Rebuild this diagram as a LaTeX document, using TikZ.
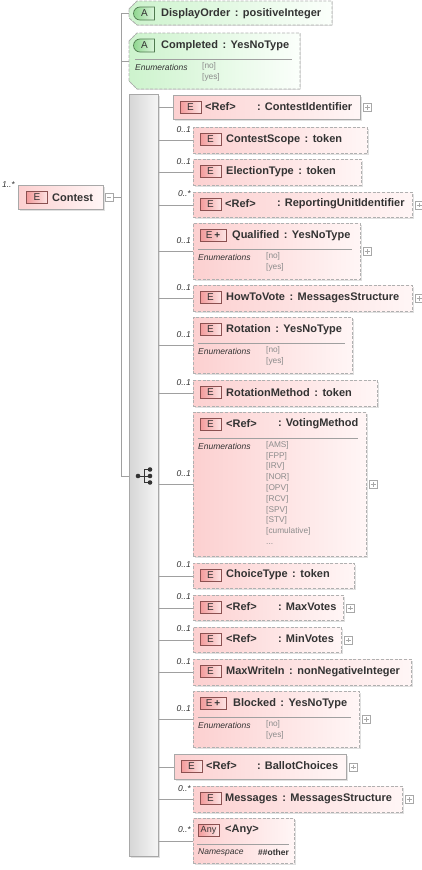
\documentclass[tikz,border=0pt]{standalone}
\usepackage{fontspec}
\setmainfont{Liberation Sans}
\usetikzlibrary{shapes.misc,shadows}
\definecolor{txt}{HTML}{333333}
\definecolor{enumC}{HTML}{8C8C8C}
\definecolor{lineC}{HTML}{A0A0A0}
\definecolor{dashC}{HTML}{B0B0B0}
\definecolor{solidC}{HTML}{A8A8A8}
\definecolor{pinkL}{HTML}{FCD0D0}
\definecolor{pinkR}{HTML}{FFF6F6}
\definecolor{greenL}{HTML}{CDF3CD}
\definecolor{greenR}{HTML}{FBFFFB}
\definecolor{badgeL}{HTML}{F29A9A}
\definecolor{badgeR}{HTML}{FDE3E3}
\definecolor{badgeB}{HTML}{8A5050}
\definecolor{abadgeL}{HTML}{8FD68F}
\definecolor{abadgeR}{HTML}{DDF6DD}
\definecolor{abadgeB}{HTML}{4F7A4F}
\definecolor{barL}{HTML}{D6D6D6}
\definecolor{barR}{HTML}{F6F6F6}
\definecolor{plusC}{HTML}{A8A8A8}
\newcommand\Ebox[6]{%
  \node[ebox,#6,minimum width=#4pt,minimum height=#5pt,anchor=north west] (#1) at (#2,#3) {};
  \node[ebadge] (#1-b) at (#2+17.5,#3+12) {E};}
\newcommand\Pbox[1]{\node[plusbox,anchor=west] (#1-p) at ([xshift=2pt]#1.east) {};}
\newcommand\Conn[2]{\draw[conn] (seq.east |- #1.west) -- (#1.west);
  \node[mult,xshift=-2pt,yshift=11pt] (#1-m) at (#1.west) {#2};}
\newcommand\Cl{\hspace{4.5pt}:\hspace{4.5pt}}
\begin{document}
\begin{tikzpicture}[x=1pt,y=-1pt,
  conn/.style={draw=lineC,line width=0.8pt},
  ebox/.style={rectangle,inner sep=0pt,left color=pinkL,right color=pinkR,
    drop shadow={shadow xshift=1.5pt,shadow yshift=-1.5pt,fill=black,opacity=0.12}},
  opt/.style={draw=dashC,dash pattern=on 3pt off 1.6pt,line width=0.8pt},
  req/.style={draw=solidC,line width=1pt},
  ebadge/.style={rectangle,inner sep=0pt,minimum width=21pt,minimum height=12pt,
    left color=badgeL,right color=badgeR,draw=badgeB,line width=0.7pt,
    font=\fontsize{10}{10}\selectfont,text=txt},
  abadge/.style={rounded rectangle,rounded rectangle right arc=none,inner sep=0pt,
    minimum width=21pt,minimum height=13pt,left color=abadgeL,right color=abadgeR,
    draw=abadgeB,line width=0.7pt,font=\fontsize{10}{10}\selectfont,text=txt},
  htext/.style={inner sep=0pt,anchor=west,font=\bfseries\fontsize{11}{11}\selectfont,text=txt},
  mult/.style={inner sep=0pt,anchor=east,font=\itshape\fontsize{8.5}{8.5}\selectfont,text=txt},
  enl/.style={inner sep=0pt,anchor=west,font=\itshape\fontsize{8.5}{8.5}\selectfont,text=txt},
  env/.style={inner sep=0pt,anchor=north west,align=left,font=\fontsize{8.3}{10.8}\selectfont,text=enumC},
  sep/.style={draw=lineC,line width=0.8pt},
  plusbox/.style={rectangle,draw=plusC,fill=white,minimum size=8pt,inner sep=0pt,line width=0.6pt,
    path picture={\draw[plusC,line width=0.6pt]
      ([xshift=1.6pt]path picture bounding box.west) -- ([xshift=-1.6pt]path picture bounding box.east)
      ([yshift=-1.6pt]path picture bounding box.north) -- ([yshift=1.6pt]path picture bounding box.south);}},
  minusbox/.style={rectangle,draw=plusC,fill=white,minimum size=8pt,inner sep=0pt,line width=0.6pt,
    path picture={\draw[plusC,line width=0.6pt]
      ([xshift=1.6pt]path picture bounding box.west) -- ([xshift=-1.6pt]path picture bounding box.east);}}
]
\useasboundingbox[fill=white] (0,0) rectangle (422,870);

% ---------- Contest ----------
\node[ebox,req,minimum width=85pt,minimum height=24pt,anchor=north west] (contest) at (18,185) {};
\node[ebadge] (contest-b) at (37,197.5) {E};
\node[htext] (contest-t) at (52,197.5) {Contest};
\node[mult,anchor=east] (contest-m) at (15,185) {1..*};
\node[minusbox] (contest-x) at (109,197.5) {};
\coordinate (jn) at (121,197.5);
\coordinate (jtop) at (121,13.5);
\coordinate (jbot) at (121,476);
\draw[conn] (contest-x.east) -- (jn);
\draw[conn] (jtop) -- (jbot);

% ---------- attributes ----------
\coordinate (do-w) at (129,13.5);
\filldraw[left color=greenL,right color=greenR,draw=dashC,dash pattern=on 3pt off 1.6pt,line width=0.8pt]
  (129,9) -- (137,1) -- (332,1) -- (332,25) -- (137,25) -- (129,18) -- cycle;
\node[abadge] (do-b) at (144.5,13.5) {A};
\node[htext] (do-t) at (161,13.5) {DisplayOrder\Cl positiveInteger};
\draw[conn] (jtop) -- (do-w);

\coordinate (co-w) at (129,61);
\filldraw[left color=greenL,right color=greenR,draw=dashC,dash pattern=on 3pt off 1.6pt,line width=0.8pt]
  (129,41) -- (137,33) -- (300,33) -- (300,89) -- (137,89) -- (129,81) -- cycle;
\node[abadge] (co-b) at (144.5,45.5) {A};
\node[htext] (co-t) at (161,45.5) {Completed\Cl YesNoType};
\draw[sep] (135,59.5) -- (292,59.5);
\node[enl] (co-e) at (135,67) {Enumerations};
\node[env] (co-v) at (202,62) {[no]\\{}[yes]};
\draw[conn] (jtop |- co-w) -- (co-w);

% ---------- sequence ----------
\node[rectangle,draw=solidC,line width=0.8pt,left color=barL,right color=barR,inner sep=0pt,
  minimum width=29pt,minimum height=762pt,anchor=north west,
  drop shadow={shadow xshift=1.5pt,shadow yshift=-1.5pt,fill=black,opacity=0.12}] (seq) at (129,94) {};
\draw[conn] (jbot) -- (jbot -| seq.west);
\begin{scope}[txt,line width=1pt]
  \draw (138,476) -- (144,476) (144,469.5) -- (144,482.5)
        (144,469.5) -- (150,469.5) (144,476) -- (150,476) (144,482.5) -- (150,482.5);
  \fill (138,476) circle (2.3);
  \fill (150,469.5) circle (2.3) (150,476) circle (2.3) (150,482.5) circle (2.3);
\end{scope}

% ---------- children ----------
% ContestIdentifier
\Ebox{ci}{173}{95}{187}{24}{req}
\node[htext] (ci-t) at (205,107) {<Ref>};
\node[htext] (ci-y) at (257,107) {:\hspace{4pt}ContestIdentifier};
\Pbox{ci}
\draw[conn] (seq.east |- ci.west) -- (ci.west);

% ContestScope
\Ebox{cs}{193}{127}{174}{26}{opt}
\node[htext] (cs-t) at (226,139.5) {ContestScope\Cl token};
\Conn{cs}{0..1}

% ElectionType
\Ebox{et}{193}{159}{168}{26}{opt}
\node[htext] (et-t) at (226,171.5) {ElectionType\Cl token};
\Conn{et}{0..1}

% ReportingUnitIdentifier
\Ebox{ru}{193}{192}{219}{25}{opt}
\node[htext] (ru-t) at (225,204) {<Ref>};
\node[htext] (ru-y) at (277,204) {:\hspace{4pt}ReportingUnitIdentifier};
\Pbox{ru}
\Conn{ru}{0..*}

% Qualified
\node[ebox,opt,minimum width=167pt,minimum height=56pt,anchor=north west] (qu) at (193,223) {};
\node[ebadge,minimum width=26pt] (qu-b) at (213,235) {E\,\textbf{+}};
\node[htext] (qu-t) at (232,235.5) {Qualified\Cl YesNoType};
\draw[sep] (198,249) -- (352,249);
\node[enl] (qu-e) at (198,257) {Enumerations};
\node[env] (qu-v) at (266,252) {[no]\\{}[yes]};
\Pbox{qu}
\Conn{qu}{0..1}

% HowToVote
\Ebox{hv}{193}{285}{219}{26}{opt}
\node[htext] (hv-t) at (226,297.5) {HowToVote\Cl MessagesStructure};
\Pbox{hv}
\Conn{hv}{0..1}

% Rotation
\Ebox{ro}{193}{317}{159}{56}{opt}
\node[htext] (ro-t) at (226,329.5) {Rotation\Cl YesNoType};
\draw[sep] (198,343) -- (345,343);
\node[enl] (ro-e) at (198,351) {Enumerations};
\node[env] (ro-v) at (266,346) {[no]\\{}[yes]};
\Conn{ro}{0..1}

% RotationMethod
\Ebox{rm}{193}{380}{184}{26}{opt}
\node[htext] (rm-t) at (226,392.5) {RotationMethod\Cl token};
\Conn{rm}{0..1}

% VotingMethod
\Ebox{vm}{193}{412}{173}{144}{opt}
\node[htext] (vm-t) at (226,424) {<Ref>};
\node[htext] (vm-y) at (278,424) {:\hspace{4pt}VotingMethod};
\draw[sep] (198,438) -- (358,438);
\node[enl] (vm-e) at (198,446) {Enumerations};
\node[env] (vm-v) at (266,441) {[AMS]\\{}[FPP]\\{}[IRV]\\{}[NOR]\\{}[OPV]\\{}[RCV]\\{}[SPV]\\{}[STV]\\{}[cumulative]\\{}...};
\Pbox{vm}
\Conn{vm}{0..1}

% ChoiceType
\Ebox{ct}{193}{563}{161}{25}{opt}
\node[htext] (ct-t) at (226,575) {ChoiceType\Cl token};
\Conn{ct}{0..1}

% MaxVotes
\Ebox{mx}{193}{595}{150}{25}{opt}
\node[htext] (mx-t) at (226,607) {<Ref>};
\node[htext] (mx-y) at (278,607) {:\hspace{4pt}MaxVotes};
\Pbox{mx}
\Conn{mx}{0..1}

% MinVotes
\Ebox{mn}{193}{627}{148}{25}{opt}
\node[htext] (mn-t) at (226,639) {<Ref>};
\node[htext] (mn-y) at (278,639) {:\hspace{4pt}MinVotes};
\Pbox{mn}
\Conn{mn}{0..1}

% MaxWriteIn
\Ebox{mw}{193}{659}{218}{26}{opt}
\node[htext] (mw-t) at (226,671.5) {MaxWriteIn\Cl nonNegativeInteger};
\Conn{mw}{0..1}

% Blocked
\node[ebox,opt,minimum width=166pt,minimum height=56pt,anchor=north west] (bl) at (193,691) {};
\node[ebadge,minimum width=26pt] (bl-b) at (213,703) {E\,\textbf{+}};
\node[htext] (bl-t) at (233,703.5) {Blocked\Cl YesNoType};
\draw[sep] (198,717) -- (351,717);
\node[enl] (bl-e) at (198,725) {Enumerations};
\node[env] (bl-v) at (266,720) {[no]\\{}[yes]};
\Pbox{bl}
\Conn{bl}{0..1}

% BallotChoices
\Ebox{bc}{174}{754}{172}{25}{req}
\node[htext] (bc-t) at (206,766) {<Ref>};
\node[htext] (bc-y) at (257,766) {:\hspace{4pt}BallotChoices};
\Pbox{bc}
\draw[conn] (seq.east |- bc.west) -- (bc.west);

% Messages
\Ebox{ms}{193}{786}{209}{26}{opt}
\node[htext] (ms-t) at (225,798.5) {Messages\Cl MessagesStructure};
\Pbox{ms}
\Conn{ms}{0..*}

% Any
\node[ebox,opt,minimum width=101pt,minimum height=45pt,anchor=north west] (an) at (193,818) {};
\node[ebadge,font=\fontsize{9}{9}\selectfont] (an-b) at (208.5,830.5) {Any};
\node[htext] (an-t) at (225,830) {<Any>};
\draw[sep] (197,844) -- (289,844);
\node[enl] (an-e) at (198,852) {Namespace};
\node[inner sep=0pt,anchor=west,font=\bfseries\fontsize{8.5}{8.5}\selectfont,text=txt] (an-v) at (258,852) {\#\#other};
\Conn{an}{0..*}
\end{tikzpicture}
\end{document}
